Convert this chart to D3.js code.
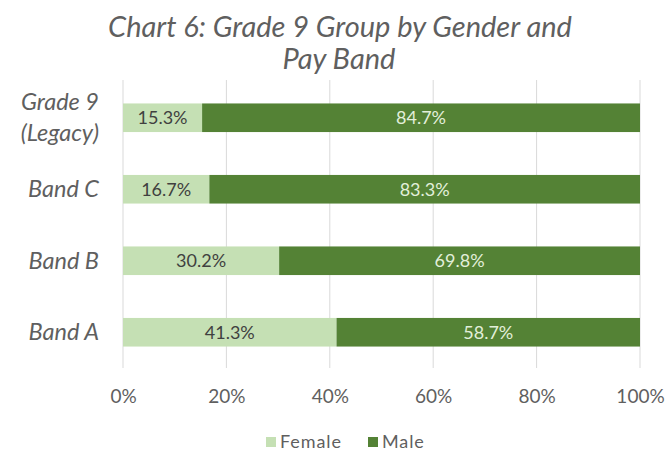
<!DOCTYPE html>
<html><head><meta charset="utf-8">
<script src="https://cdn.jsdelivr.net/npm/d3@7"></script>
<style>body{margin:0;background:#fff;}svg{display:block;}</style>
</head><body>
<svg id="chart" width="667" height="453"></svg>
<script>
const categories = ["Grade 9\n(Legacy)", "Band C", "Band B", "Band A"];
const female = [15.3, 16.7, 30.2, 41.3];
const male = [84.7, 83.3, 69.8, 58.7];
const ticks = [0, 20, 40, 60, 80, 100];
const seriesNames = ["Female", "Male"];
const colors = ["#c5e0b4", "#548235"];
const labelColors = ["#404040", "#e2efda"];

const svg = d3.select("#chart");
const m = {left: 123, right: 27, top: 82, bottom: 85};
const W = 667, H = 453;
const x = d3.scaleLinear().domain([0, 100]).range([m.left, W - m.right]);
const y = d3.scaleBand().domain(categories).range([m.top, H - m.bottom]).paddingInner(0.6).paddingOuter(0.3);

const font = "Lato, 'Open Sans', sans-serif";

// title
const title = svg.append("text").attr("text-anchor", "middle")
  .attr("font-family", font).attr("font-style", "italic").attr("font-size", 29).attr("fill", "#5f5f5f");
title.append("tspan").attr("x", 340).attr("y", 37).text("Chart 6: Grade 9 Group by Gender and");
title.append("tspan").attr("x", 339).attr("y", 69).text("Pay Band");

// gridlines
svg.append("g").selectAll("line").data(ticks).join("line")
  .attr("x1", d => x(d)).attr("x2", d => x(d))
  .attr("y1", m.top - 2).attr("y2", H - m.bottom)
  .attr("stroke", "#d9d9d9").attr("stroke-width", 1);

// x axis
const xAxis = d3.axisBottom(x).tickValues(ticks).tickFormat(d => d + "%").tickSize(0).tickPadding(0);
const gx = svg.append("g").attr("transform", `translate(0,${H - m.bottom + 21})`).call(xAxis);
gx.select(".domain").remove();
gx.selectAll("text").attr("font-family", font).attr("font-size", 19).attr("fill", "#5f5f5f");

// stacked bars
const rows = categories.map((c, i) => ({cat: c, vals: [female[i], male[i]]}));
const g = svg.append("g");
rows.forEach(r => {
  let acc = 0;
  r.vals.forEach((v, j) => {
    const x0 = acc, x1 = acc + v; acc = x1;
    g.append("rect").attr("x", x(x0)).attr("width", x(x1) - x(x0))
      .attr("y", y(r.cat)).attr("height", y.bandwidth()).attr("fill", colors[j]);
    g.append("text").attr("x", (x(x0) + x(x1)) / 2).attr("y", y(r.cat) + y.bandwidth() / 2)
      .attr("dy", "0.35em").attr("text-anchor", "middle")
      .attr("font-family", font).attr("font-size", 18).attr("fill", labelColors[j])
      .text(v.toFixed(1) + "%");
  });
});

// y labels
rows.forEach(r => {
  const lines = r.cat.split("\n");
  const cy = y(r.cat) + y.bandwidth() / 2;
  const t = svg.append("text").attr("text-anchor", "end").attr("font-family", font)
    .attr("font-style", "italic").attr("font-size", 23.5).attr("fill", "#5f5f5f");
  lines.forEach((l, k) => {
    t.append("tspan").attr("x", 99)
      .attr("y", cy + (k - (lines.length - 1) / 2) * 31).attr("dy", "0.35em").text(l);
  });
});

// legend
const leg = svg.append("g").attr("transform", "translate(266,442)");
const legX = [0, 102];
seriesNames.forEach((s, i) => {
  leg.append("rect").attr("x", legX[i]).attr("y", -5).attr("width", 10).attr("height", 10).attr("fill", colors[i]);
  leg.append("text").attr("x", legX[i] + 14).attr("y", 0).attr("dy", "0.35em")
    .attr("font-family", font).attr("font-size", 18).attr("letter-spacing", 0.9).attr("fill", "#5f5f5f").text(s);
});
</script>
</body></html>
